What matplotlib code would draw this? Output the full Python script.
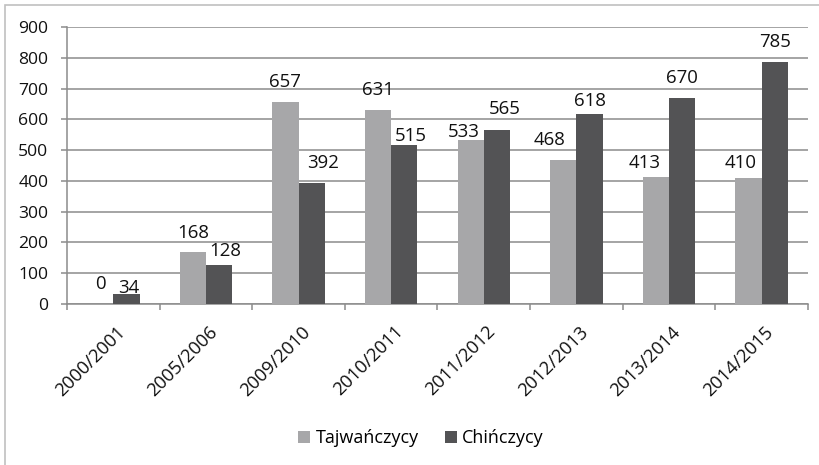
import matplotlib
matplotlib.use("Agg")
import matplotlib.pyplot as plt
import matplotlib.transforms as mtransforms
from matplotlib.patches import Rectangle
import numpy as np

categories = ["2000/2001", "2005/2006", "2009/2010", "2010/2011",
              "2011/2012", "2012/2013", "2013/2014", "2014/2015"]
taiwan = [0, 168, 657, 631, 533, 468, 413, 410]
china = [34, 128, 392, 515, 565, 618, 670, 785]
series_names = ["Tajwańczycy", "Chińczycy"]
yticks = list(range(0, 1000, 100))

# label placement tweaks (pixels), mimicking the spreadsheet's label layout
label_dx_taiwan = [0, 0, 0, 0, -7, -14, -11, -8]
label_gap_taiwan = [15, 14, 15, 15, 3, 15, 9, 10]
label_dx_china = [2, 6, 11, 6, 8, 0, 0, 0]
label_gap_china = [1, 9, 15, 4, 16, 8, 15, 15]

plt.rcParams['font.family'] = ['Open Sans', 'DejaVu Sans']

W, H = 820, 465
fig = plt.figure(figsize=(W / 100, H / 100), dpi=100)
ax = fig.add_axes([67 / W, 1 - 304 / H, (808 - 67) / W, (304 - 27) / H])

# outer chart frame
fig.patches.append(Rectangle((5 / W, -0.1), 1.2, 1 - 5 / H + 0.1,
                             transform=fig.transFigure, fill=False,
                             edgecolor="#C0C0C0", linewidth=1.2))

x = np.arange(len(categories))
bw = 0.284
c1, c2 = "#A7A7A9", "#535355"
b1 = ax.bar(x - bw / 2, taiwan, bw, color=c1, label=series_names[0], zorder=3)
b2 = ax.bar(x + bw / 2, china, bw, color=c2, label=series_names[1], zorder=3)

for bars, vals, dxs, gaps in ((b1, taiwan, label_dx_taiwan, label_gap_taiwan),
                              (b2, china, label_dx_china, label_gap_china)):
    for rect, v, dx, g in zip(bars, vals, dxs, gaps):
        ax.annotate(str(v), (rect.get_x() + rect.get_width() / 2, v),
                    xytext=(dx, g), textcoords="offset pixels",
                    ha="center", va="baseline", fontsize=13.4, color="#111111")

ax.set_xlim(-0.5, len(categories) - 0.5)
ax.set_ylim(0, 900)
ax.set_yticks(yticks)
ax.tick_params(axis="y", labelsize=12.6, length=4.5, width=1.1,
               color="#8C8C8C", labelcolor="#111111", pad=9)
ax.yaxis.grid(True, color="#8C8C8C", linewidth=1.1, zorder=0)
ax.set_axisbelow(True)

ax.set_xticks(x)
ax.set_xticklabels(categories, rotation=45, ha="right", va="center",
                   rotation_mode="anchor", fontsize=13.2, color="#111111")
ax.tick_params(axis="x", length=0, pad=18)
offset = mtransforms.ScaledTranslation(9 / 100, 0, fig.dpi_scale_trans)
for lbl in ax.get_xticklabels():
    lbl.set_transform(lbl.get_transform() + offset)
ax.set_xticks(np.arange(-0.5, len(categories)), minor=True)
ax.tick_params(axis="x", which="minor", length=4, width=1.1, color="#8C8C8C")

for s in ["top", "right"]:
    ax.spines[s].set_visible(False)
for s in ["left", "bottom"]:
    ax.spines[s].set_color("#8C8C8C")
    ax.spines[s].set_linewidth(1.1)

fig.legend(handles=[b1, b2], labels=series_names, loc="center",
           bbox_to_anchor=(421 / W, 1 - 438 / H), ncol=2, frameon=False,
           fontsize=13, handlelength=0.67, handleheight=0.67,
           handletextpad=0.28, columnspacing=1.45, borderpad=0)

fig.savefig("out.png", dpi=100, facecolor="white")
